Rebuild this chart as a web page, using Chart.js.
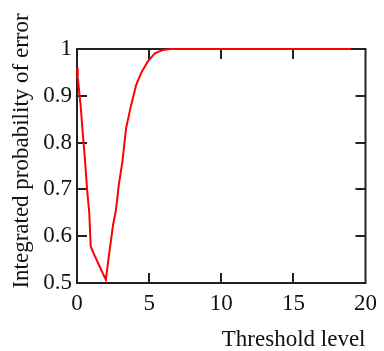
<!DOCTYPE html>
<html>
<head>
<meta charset="utf-8">
<script src="https://cdn.jsdelivr.net/npm/chart.js@4"></script>
<style>
html,body{margin:0;padding:0;background:#fff;}
#wrap{width:384px;height:351px;position:relative;}
</style>
</head>
<body>
<div id="wrap"><canvas id="c" width="384" height="351"></canvas></div>
<script>
const thresholds = [0, 0.05, 0.25, 0.4, 0.55, 0.7, 0.85, 0.95, 1.2, 1.5, 1.8, 2.0, 2.2, 2.5, 2.7, 2.9, 3.15, 3.4, 3.75, 4.1, 4.45, 4.9, 5.4, 5.95, 6.5, 19];
const probabilities = [0.96, 0.94, 0.88, 0.82, 0.765, 0.70, 0.65, 0.578, 0.56, 0.54, 0.52, 0.507, 0.556, 0.624, 0.656, 0.71, 0.76, 0.83, 0.88, 0.923, 0.949, 0.973, 0.991, 0.998, 1.0, 1.0];
const xTickValues = [0, 5, 10, 15, 20];
const yTickValues = [0.5, 0.6, 0.7, 0.8, 0.9, 1.0];
const yTickLabels = ['0.5', '0.6', '0.7', '0.8', '0.9', '1'];
const xTitle = 'Threshold level';
const yTitle = 'Integrated probability of error';

const FONT = 'Liberation Serif';
const points = thresholds.map((t, i) => ({x: t, y: probabilities[i]}));

const framePlugin = {
  id: 'frame',
  beforeDatasetsDraw(chart) {
    const {ctx, chartArea: a, scales} = chart;
    ctx.save();
    ctx.strokeStyle = '#222';
    ctx.lineWidth = 2;
    ctx.strokeRect(a.left, a.top, a.right - a.left, a.bottom - a.top);
    const tl = 10;
    ctx.beginPath();
    xTickValues.forEach(v => {
      const px = Math.round(scales.x.getPixelForValue(v));
      if (px <= a.left + 1 || px >= a.right - 1) return;
      ctx.moveTo(px, a.bottom); ctx.lineTo(px, a.bottom - tl);
      ctx.moveTo(px, a.top); ctx.lineTo(px, a.top + tl);
    });
    yTickValues.forEach(v => {
      const py = Math.round(scales.y.getPixelForValue(v));
      if (py <= a.top + 1 || py >= a.bottom - 1) return;
      ctx.moveTo(a.left, py); ctx.lineTo(a.left + tl, py);
      ctx.moveTo(a.right, py); ctx.lineTo(a.right - tl, py);
    });
    ctx.stroke();
    // y title
    ctx.fillStyle = '#111';
    ctx.font = '23px "' + FONT + '"';
    ctx.textAlign = 'center';
    ctx.textBaseline = 'middle';
    ctx.translate(22, (a.top + a.bottom) / 2 - 15);
    ctx.rotate(-Math.PI / 2);
    ctx.fillText(yTitle, 0, 0);
    ctx.restore();
  }
};

new Chart(document.getElementById('c'), {
  type: 'line',
  data: {
    datasets: [{
      data: points,
      borderColor: '#ff0000',
      borderWidth: 2,
      pointRadius: 0,
      tension: 0,
      fill: false,
      clip: 4
    }]
  },
  options: {
    responsive: false,
    animation: false,
    events: [],
    layout: {padding: {top: 49, right: 17, left: 0, bottom: 0}},
    plugins: {legend: {display: false}, tooltip: {enabled: false}},
    scales: {
      x: {
        type: 'linear',
        min: 0, max: 20,
        afterBuildTicks: s => { s.ticks = xTickValues.map(v => ({value: v})); },
        afterFit: s => { s.height = 68; },
        grid: {display: false, drawTicks: false},
        border: {display: false},
        ticks: {
          padding: 7,
          color: '#111',
          font: {family: FONT, size: 23},
          maxRotation: 0,
          callback: v => String(v)
        },
        title: {
          display: true,
          text: xTitle,
          align: 'end',
          color: '#111',
          font: {family: FONT, size: 23, lineHeight: 1},
          padding: 0
        }
      },
      y: {
        type: 'linear',
        min: 0.5, max: 1,
        afterBuildTicks: s => { s.ticks = yTickValues.map(v => ({value: v})); },
        afterFit: s => { s.width = 77; },
        grid: {display: false, drawTicks: false},
        border: {display: false},
        ticks: {
          padding: 5,
          color: '#111',
          font: {family: FONT, size: 23},
          callback: (v, i) => yTickLabels[i]
        }
      }
    }
  },
  plugins: [framePlugin]
});
</script>
</body>
</html>
